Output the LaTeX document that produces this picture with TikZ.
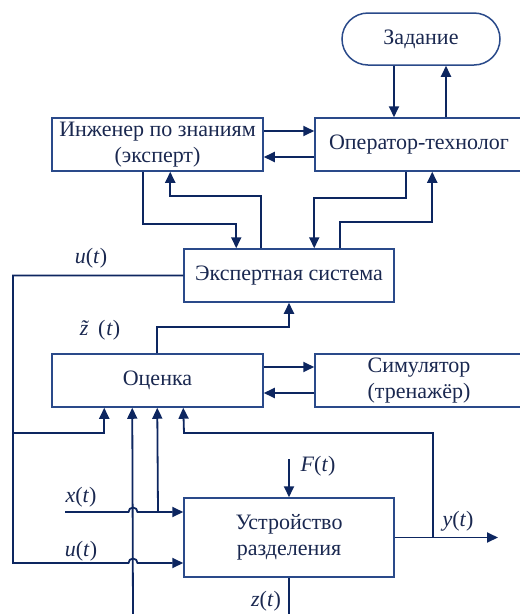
\documentclass[tikz,border=0pt]{standalone}
\usepackage{fontspec}
\setmainfont{Liberation Serif}
\usetikzlibrary{arrows.meta,shapes.misc,calc}
\definecolor{linec}{HTML}{0D2660}
\definecolor{boxc}{HTML}{2A4A8A}
\definecolor{txtc}{HTML}{1A2850}
\newcommand{\sig}[1]{\textit{#1}(\textit{t})}
\begin{document}
\begin{tikzpicture}[x=1pt,y=-1pt,
  blk/.style={draw=boxc,line width=1.5pt,fill=white,text=txtc,font=\fontsize{22}{26}\selectfont,
              align=center,inner sep=0pt},
  term/.style={blk,rounded rectangle},
  wire/.style={draw=linec,line width=1.8pt},
  arr/.style={wire,-{Triangle[length=11pt,width=10pt]}},
  lbl/.style={text=txtc,font=\fontsize{22}{26}\selectfont,inner sep=0pt}]
\useasboundingbox (0,0) rectangle (520,614);

% blocks
\node[term,minimum width=158pt,minimum height=52pt] (zad) at (421,39) {Задание};
\node[blk,minimum width=211pt,minimum height=53pt] (ing) at (157.5,144.5) {Инженер по знаниям\\(эксперт)};
\node[blk,minimum width=208pt,minimum height=53pt] (oper) at (419,144.5) {Оператор-технолог};
\node[blk,minimum width=210pt,minimum height=53pt] (es) at (289,275.5) {Экспертная система};
\node[blk,minimum width=211pt,minimum height=53pt] (ots) at (157.5,380.5) {Оценка};
\node[blk,minimum width=208pt,minimum height=53pt] (sim) at (419,380.5) {Симулятор\\(тренажёр)};
\node[blk,minimum width=210pt,minimum height=79pt] (ur) at (289,537.5) {Устройство\\разделения};

% task <-> operator
\draw[arr] ([xshift=-27pt]zad.south) -- ([xshift=-27pt]zad.south |- oper.north);
\draw[arr] ([xshift=25pt]zad.south |- oper.north) -- ([xshift=25pt]zad.south);

% engineer <-> operator
\draw[arr] ([yshift=13.5pt]ing.east) -- ([yshift=13.5pt]ing.east -| oper.west);
\draw[arr] ([yshift=-12.5pt]oper.west) -- ([yshift=-12.5pt]oper.west -| ing.east);

% engineer / operator <-> expert system
\draw[arr] ([xshift=92pt]ing.south west) -- ++(0,52) -| ([xshift=53pt]es.north west);
\draw[arr] ([xshift=78pt]es.north west) -- ++(0,-52) -| ([xshift=119pt]ing.south west);
\draw[arr] ([xshift=92pt]oper.south west) -- ++(0,26) -| ([xshift=131pt]es.north west);
\draw[arr] ([xshift=157pt]es.north west) -- ++(0,-26) -| ([xshift=118pt]oper.south west);

% estimate -> expert system
\draw[arr] ([xshift=106pt]ots.north west) -- ++(0,-26) -| (es.south);

% estimate <-> simulator
\draw[arr] ([yshift=13.5pt]ots.east) -- ([yshift=13.5pt]ots.east -| sim.west);
\draw[arr] ([yshift=-12.5pt]sim.west) -- ([yshift=-12.5pt]sim.west -| ots.east);

% control u(t)
\coordinate (ucorner) at (13,563);
\coordinate (ubranch) at (13,433);
\draw[arr] (es.west) -| (ucorner) -- (128.5,563) arc (180:360:4.5) -- ([yshift=-25.5pt]ur.west);
\draw[arr] (ubranch) -| ([xshift=53pt]ots.south west);

% input x(t)
\coordinate (xin) at (65,512);
\coordinate (xbranch) at (158,512);
\draw[arr] (xin) -- (128.5,512) arc (180:360:4.5) -- ([yshift=25.5pt]ur.west);
\draw[arr] (xbranch) -- ([xshift=106pt]ots.south west);

% z(t) feedback
\coordinate (zin) at (133,614);
\draw[arr] (zin) -- ([xshift=81pt]ots.south west);
\coordinate (zout) at (289,614);
\draw[wire] (ur.south) -- (zout);

% disturbance F(t)
\coordinate (fin) at (289,459);
\draw[arr] (fin) -- (ur.north);

% output y(t)
\coordinate (yout) at (498,537.5);
\coordinate (ybranch) at (433,537.5);
\draw[arr] (ur.east) -- (yout);
\draw[arr] (ybranch) |- (184,433) -- ([xshift=132pt]ots.south west);

% signal labels
\node[lbl] (lu1) at (91,258) {\sig{u}};
\node[lbl] (lz) at (100,330) {\textit{z̃}\kern1pt(\kern1pt\textit{t})};
\node[lbl] (lx) at (81,497) {\sig{x}};
\node[lbl] (lu2) at (81,551) {\sig{u}};
\node[lbl] (lf) at (318,466) {\sig{F}};
\node[lbl] (ly) at (458,521) {\sig{y}};
\node[lbl] (lzo) at (266,601) {\sig{z}};
\end{tikzpicture}
\end{document}
